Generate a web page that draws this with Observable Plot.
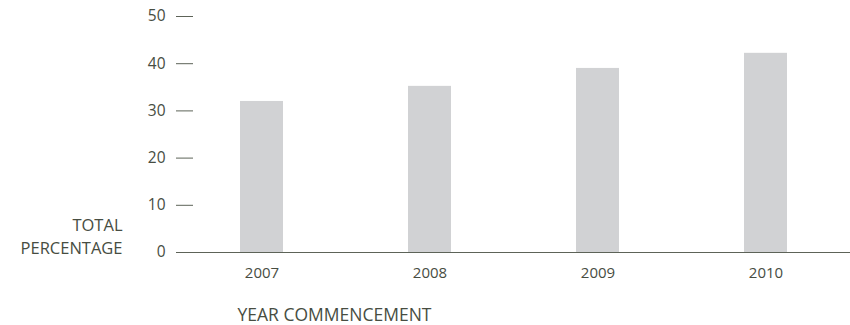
<!DOCTYPE html>
<html>
<head>
<meta charset="utf-8">
<script src="https://cdn.jsdelivr.net/npm/d3@7"></script>
<script src="https://cdn.jsdelivr.net/npm/@observablehq/plot@0.6"></script>
<style>
  html, body { margin: 0; padding: 0; background: #fff; }
  #chart svg { display: block; }
</style>
</head>
<body>
<div id="chart"></div>
<script>
const years = ["2007", "2008", "2009", "2010"];
const percentages = [32.0, 35.2, 39.0, 42.2];
const yTicks = [0, 10, 20, 30, 40, 50];
const yLabel = "TOTAL\nPERCENTAGE";
const xLabel = "YEAR COMMENCEMENT";

const data = years.map((year, i) => ({year, value: percentages[i]}));

const textColor = "#474d42";
const lineColor = "#5d6358";

const chart = Plot.plot({
  width: 850,
  height: 325,
  marginTop: 16,
  marginBottom: 73,
  marginLeft: 193,
  marginRight: 0,
  style: {fontFamily: "'Open Sans', sans-serif", fontSize: "15px", color: textColor, background: "#fff"},
  x: {domain: years, range: [176, 850], paddingInner: 0.745, paddingOuter: 0.3725, align: 0.5},
  y: {domain: [0, 50]},
  marks: [
    Plot.ruleY([0], {stroke: lineColor, strokeWidth: 1, insetLeft: -17}),
    Plot.barY(data, {x: "year", y: "value", fill: "#d1d2d4"}),
    Plot.axisY(yTicks, {anchor: "left", tickSize: 17, tickPadding: 11, stroke: lineColor, fill: textColor, label: null, fontSize: 15.5}),
    Plot.axisX({anchor: "bottom", tickSize: 0, tickPadding: 15, fill: textColor, label: null, fontSize: 15}),
    Plot.text([yLabel], {frameAnchor: "bottom-left", textAnchor: "end", lineAnchor: "bottom", dx: -71, dy: 1, fill: textColor, fontSize: 16.5, lineHeight: 1.38}),
    Plot.text([xLabel], {frameAnchor: "bottom-left", textAnchor: "start", lineAnchor: "middle", dx: 44, dy: 63, fill: textColor, fontSize: 17.5})
  ]
});
document.getElementById("chart").appendChild(chart);
</script>
</body>
</html>
